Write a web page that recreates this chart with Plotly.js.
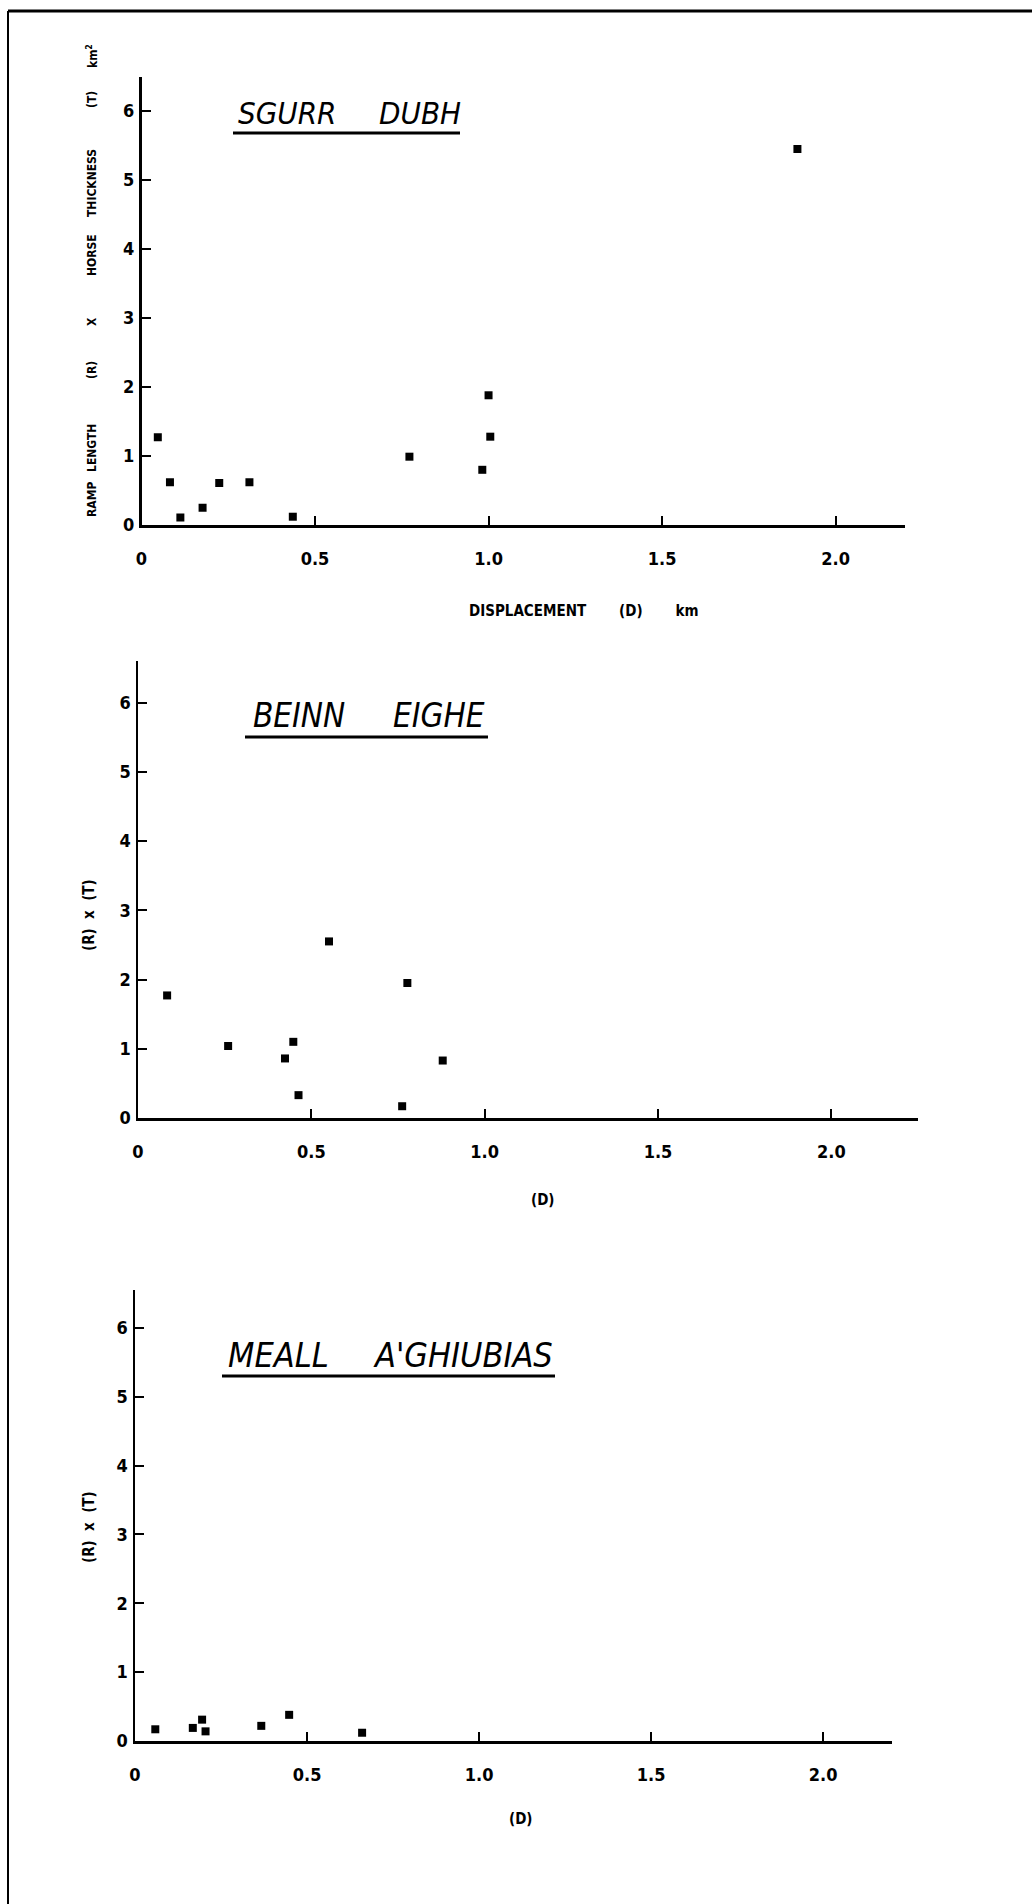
<!DOCTYPE html>
<html>
<head>
<meta charset="utf-8">
<script src="https://cdn.plot.ly/plotly-3.0.1.min.js"></script>
<style>
html,body{margin:0;padding:0;background:#fff;}
#chart{width:1032px;height:1904px;}
</style>
</head>
<body>
<div id="chart"></div>
<script>
// ---- data ----
var panelTitleWords = [["SGURR", "DUBH"], ["BEINN", "EIGHE"], ["MEALL", "A'GHIUBIAS"]];

var sgurrD  = [0.047, 0.082, 0.112, 0.176, 0.224, 0.311, 0.436, 0.772, 0.982, 1.000, 1.005, 1.89];
var sgurrRT = [1.27, 0.62, 0.11, 0.25, 0.61, 0.62, 0.12, 0.99, 0.80, 1.88, 1.28, 5.45];

var beinnD  = [0.084, 0.26, 0.424, 0.448, 0.463, 0.551, 0.762, 0.777, 0.879];
var beinnRT = [1.77, 1.04, 0.86, 1.10, 0.33, 2.55, 0.17, 1.95, 0.83];

var meallD  = [0.059, 0.168, 0.195, 0.205, 0.367, 0.448, 0.66];
var meallRT = [0.17, 0.19, 0.31, 0.14, 0.22, 0.38, 0.12];

var xTickVals = [0, 0.5, 1.0, 1.5, 2.0];
var xTickText = ["0", "0.5", "1.0", "1.5", "2.0"];
var yTickVals = [0, 1, 2, 3, 4, 5, 6];
var yTickText = ["0", "1", "2", "3", "4", "5", "6"];

var yTitle1Words = ["RAMP", "LENGTH", "(R)", "X", "HORSE", "THICKNESS", "(T)", "km<sup>2</sup>"];
var xTitle1 = "DISPLACEMENT\u00a0\u00a0\u00a0\u00a0\u00a0\u00a0\u00a0(D)\u00a0\u00a0\u00a0\u00a0\u00a0\u00a0\u00a0km";
var yTitleShort = "(R)\u00a0\u00a0x\u00a0\u00a0(T)";
var xTitleShort = "(D)";

// ---- layout helpers ----
var W = 1032, H = 1904;
function px(x){ return x / W; }
function py(y){ return 1 - y / H; }

var NARROW = "Liberation Sans Narrow, DejaVu Sans Condensed, Arial Narrow, sans-serif";

function xax(domain, range, anchor){
  return {
    domain: domain, range: range, anchor: anchor,
    showline: true, linewidth: 3, linecolor: "#000",
    ticks: "inside", ticklen: 9, tickwidth: 2, tickcolor: "#000",
    tickvals: xTickVals, ticktext: xTickText,
    tickfont: {family: NARROW, size: 18, color: "#000", weight: "bold"},
    ticklabelstandoff: 15,
    showgrid: false, zeroline: false, fixedrange: true
  };
}
function yax(domain, range, anchor){
  return {
    domain: domain, range: range, anchor: anchor,
    showline: true, linewidth: 2.5, linecolor: "#000",
    ticks: "inside", ticklen: 9, tickwidth: 2, tickcolor: "#000",
    tickvals: yTickVals, ticktext: yTickText,
    tickfont: {family: NARROW, size: 18, color: "#000", weight: "bold"},
    ticklabelstandoff: 1,
    showgrid: false, zeroline: false, fixedrange: true
  };
}

var mk = {symbol: "square", size: 8, color: "#000"};
var data = [
  {x: sgurrD, y: sgurrRT, xaxis: "x",  yaxis: "y",  type: "scatter", mode: "markers", marker: mk},
  {x: beinnD, y: beinnRT, xaxis: "x2", yaxis: "y2", type: "scatter", mode: "markers", marker: mk},
  {x: meallD, y: meallRT, xaxis: "x3", yaxis: "y3", type: "scatter", mode: "markers", marker: mk}
];

var labFont = {family: NARROW, size: 15, color: "#000", weight: "bold"};
var smallLabFont = {family: NARROW, size: 12, color: "#000", weight: "bold"};
function titleFont(sz){ return {family: NARROW, size: sz, color: "#000", style: "italic"}; }

function ann(text, x, y, font, opts){
  var a = {text: text, xref: "paper", yref: "paper", x: px(x), y: py(y),
           showarrow: false, font: font, xanchor: "center", yanchor: "middle"};
  for (var k in (opts||{})) a[k] = opts[k];
  return a;
}

var annotations = [
  ann(xTitle1, 583, 611, labFont),
  ann(yTitleShort, 89, 915, labFont, {textangle: -90}),
  ann(xTitleShort, 543, 1200, labFont),
  ann(yTitleShort, 89, 1527, labFont, {textangle: -90}),
  ann(xTitleShort, 521, 1819, labFont)
];
// panel title word placements (left edge x, centre y, font size)
var titlePlace = [
  [[236, 113, 31], [377, 113, 31]],
  [[251, 715, 33], [391, 715, 33]],
  [[226, 1355, 34], [371, 1355, 34]]
];
panelTitleWords.forEach(function(words, p){
  words.forEach(function(w, j){
    var pl = titlePlace[p][j];
    annotations.push(ann(w, pl[0], pl[1], titleFont(pl[2]), {xanchor: "left"}));
  });
});
// word positions (vertical centres) of the long rotated y title of panel 1
var yTitle1Pos = [500, 448, 370, 322, 255, 183, 100, 56];
yTitle1Words.forEach(function(w, i){
  annotations.push(ann(w, 92, yTitle1Pos[i], smallLabFont, {textangle: -90}));
});

var layout = {
  width: W, height: H,
  margin: {l: 0, r: 0, t: 0, b: 0},
  paper_bgcolor: "#fff", plot_bgcolor: "rgba(0,0,0,0)",
  showlegend: false, hovermode: false,
  xaxis:  xax([px(141.5), px(905)], [0, 2.2],  "y"),
  yaxis:  yax([py(525), py(76.5)], [0, 6.5],   "x"),
  xaxis2: xax([px(138), px(918)],  [0, 2.25], "y2"),
  yaxis2: yax([py(1118), py(661)], [0, 6.6],  "x2"),
  xaxis3: xax([px(135), px(892)],  [0, 2.2],  "y3"),
  yaxis3: yax([py(1741), py(1290)], [0, 6.55], "x3"),
  annotations: annotations,
  shapes: [
    {type: "line", xref: "paper", yref: "paper", x0: px(8), x1: 1, y0: py(11), y1: py(11), line: {color: "#000", width: 3}},
    {type: "line", xref: "paper", yref: "paper", x0: px(8), x1: px(8), y0: py(11), y1: 0, line: {color: "#000", width: 2}},
    {type: "line", xref: "paper", yref: "paper", x0: px(233), x1: px(460), y0: py(133), y1: py(133), line: {color: "#000", width: 3}},
    {type: "line", xref: "paper", yref: "paper", x0: px(245), x1: px(488), y0: py(737), y1: py(737), line: {color: "#000", width: 3}},
    {type: "line", xref: "paper", yref: "paper", x0: px(222), x1: px(555), y0: py(1376), y1: py(1376), line: {color: "#000", width: 3}}
  ]
};

Plotly.newPlot("chart", data, layout, {displayModeBar: false, staticPlot: true});
</script>
</body>
</html>
